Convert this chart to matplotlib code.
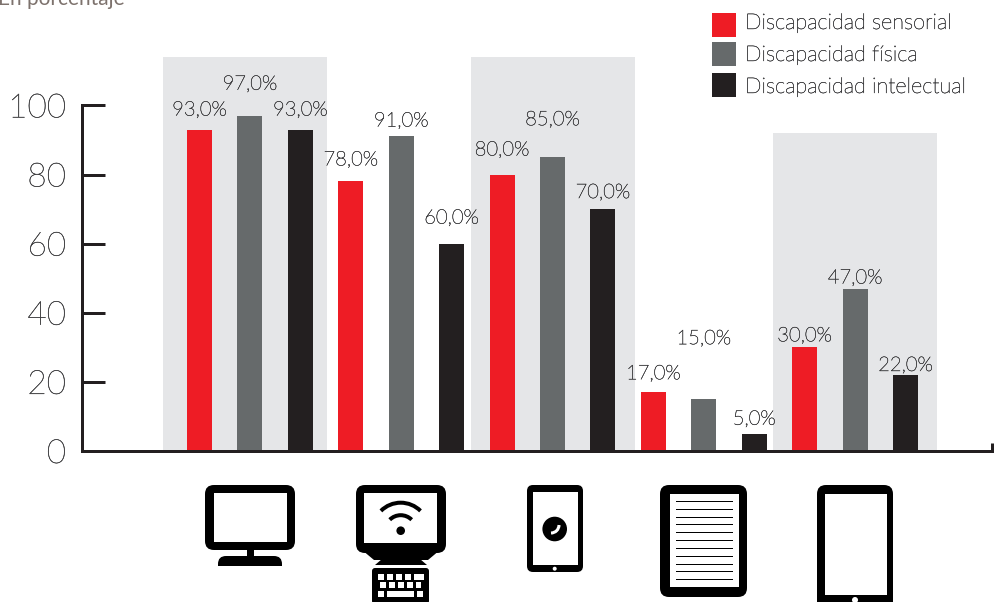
import matplotlib
matplotlib.use("Agg")
import matplotlib.pyplot as plt
import matplotlib.patheffects as pe
from matplotlib.patches import FancyBboxPatch, Rectangle, Circle, Arc, Polygon

# values per device, in the order of the icons
sensorial = [93, 78, 80, 17, 30]
fisica = [97, 91, 85, 15, 47]
intelectual = [93, 60, 70, 5, 22]
series_names = ["Discapacidad sensorial", "Discapacidad física", "Discapacidad intelectual"]
y_ticks = [0, 20, 40, 60, 80, 100]

# grey bands behind the groups: centre in bar slots, height
bands = [(0.9, 114), (7, 114), (13, 92)]

# label gap over each bar, pixels (the original placed them by hand)
gaps = [[10, 22, 10], [12, 6, 16], [15, 28, 7], [9, 51, 5], [2, 1, 0]]

RED, GREY, BLACK, BAND = "#ee1c25", "#666a6b", "#231f20", "#e5e6e8"
TXT = "#3f3f41"
FONT = "Lato"
W, H = 998, 602
PX = 0.72  # points per pixel at dpi 100
# the only light cut found is very thin, so thicken it a little
THIN = [pe.withStroke(linewidth=0.3, foreground=TXT)]

fig = plt.figure(figsize=(W / 100, H / 100), dpi=100)
ax = fig.add_axes([82 / W, (H - 451) / H, (992 - 82) / W, (451 - 57) / H])
ax.set_ylim(0, 114)
step = 50.43
xmin, xmax = (82 - 199.5) / step, (992 - 199.5) / step
ax.set_xlim(xmin, xmax)

for pos, top in bands:
    ax.bar(pos, top, width=164 / step, color=BAND, linewidth=0, zorder=1)

for s, vals in enumerate([sensorial, fisica, intelectual]):
    color = [RED, GREY, BLACK][s]
    for g, v in enumerate(vals):
        x = g * 3 + s
        ax.bar(x, v, width=25 / step, color=color, linewidth=0, zorder=2)
        ax.annotate(f"{v:.1f}%".replace(".", ","), (x, v), xytext=(0, gaps[g][s] * PX),
                    textcoords="offset points", ha="center", va="bottom",
                    fontsize=14.5, family=FONT, weight="light", color=TXT, zorder=3,
                    path_effects=THIN)

for name in ["top", "right"]:
    ax.spines[name].set_visible(False)
ax.spines["left"].set_bounds(0, 100)
for name in ["left", "bottom"]:
    ax.spines[name].set_linewidth(3 * PX)
    ax.spines[name].set_color(BLACK)
ax.set_yticks(y_ticks)
ax.set_xticks([xmax])
ax.set_xticklabels([""])
ax.tick_params(axis="y", direction="in", length=23 * PX, width=3 * PX, color=BLACK,
               pad=16 * PX, labelsize=24, labelcolor=TXT)
ax.tick_params(axis="x", direction="in", length=8 * PX, width=3 * PX, color=BLACK)
for lab in ax.get_yticklabels():
    lab.set_family(FONT)
    lab.set_weight("light")
    lab.set_path_effects(THIN)
ax.patch.set_alpha(0)

# overlay in pixel coordinates for legend, note and icons
ov = fig.add_axes([0, 0, 1, 1])
ov.set_xlim(0, W)
ov.set_ylim(H, 0)
ov.axis("off")
ov.patch.set_alpha(0)


def rbox(x0, y0, x1, y1, r, color="black", z=5):
    ov.add_patch(FancyBboxPatch((x0 + r, y0 + r), x1 - x0 - 2 * r, y1 - y0 - 2 * r,
                                boxstyle=f"round,pad={r},rounding_size={r}",
                                fc=color, ec="none", zorder=z))


def rect(x0, y0, x1, y1, color="white", z=6):
    ov.add_patch(Rectangle((x0, y0), x1 - x0, y1 - y0, fc=color, ec="none", zorder=z))


# legend
for (y0, y1), c, name, ty in zip([(13, 37), (42, 66), (73, 97)], [RED, GREY, BLACK], series_names, [29, 61, 93]):
    rect(712, y0, 736, y1, c)
    ov.text(745, ty, name, fontsize=15.6, family=FONT, weight="light", color=TXT, va="baseline", ha="left",
            path_effects=THIN)

ov.text(125, 5, "En porcentaje", fontsize=15, family=FONT, color="#7d726d", ha="right", va="baseline")

# desktop monitor
rbox(205, 485, 295, 550, 9)
rect(214, 493, 287, 542)
rect(247, 549, 254, 558, "black")
rbox(218, 556, 282, 576, 8)
rect(215, 566, 285, 578)

# monitor with wifi and keyboard
rbox(356, 485, 446, 553, 9)
rect(364, 493, 437, 543)
ov.add_patch(Polygon([[362, 550], [440, 550], [428, 560], [374, 560]], fc="black", ec="none", zorder=5))
ov.add_patch(Polygon([[375, 565], [427, 565], [420, 559], [382, 559]], fc="black", ec="none", zorder=5))
ov.add_patch(Circle((400.7, 530.7), 4.3, fc="black", ec="none", zorder=7))
for r in [28, 15.5]:
    ov.add_patch(Arc((400.7, 530.7), 2 * r, 2 * r, theta1=225, theta2=315, ec="black", lw=4 * PX, zorder=7))
rbox(372, 568, 429, 604, 3)
for row_y, row in [(574, [(378, 384), (387, 393), (396, 402), (405, 411), (414, 424)]),
                   (582, [(380, 386), (389, 395), (398, 404), (407, 413), (416, 421)]),
                   (591, [(378, 384), (387, 414), (417, 423)])]:
    for a, b in row:
        rect(a, row_y, b, row_y + 5.5)

# phone
rbox(527, 485, 583, 572, 6)
rect(533, 492, 578, 565)
ov.add_patch(Circle((554.7, 529), 12.3, fc="black", ec="none", zorder=7))
ov.add_patch(Arc((551, 525), 16, 16, theta1=0, theta2=90, ec="white", lw=2.2, zorder=8))
ov.add_patch(Circle((554.7, 568.7), 2, fc="white", ec="none", zorder=7))

# e-reader
rbox(660, 485, 747, 597, 9)
rect(670, 494, 739, 587)
for y in [501.3, 509.3, 517.3, 524.3, 532.3, 540.3, 548.3, 556.3, 564.3, 571.3, 579.3]:
    rect(676, y - 0.5, 733, y + 0.5, "black", 7)

# tablet, cut by the image edge
rbox(817, 485, 893, 620, 9)
rect(825, 494, 887, 595)
ov.add_patch(Circle((855, 600), 3, fc="white", ec="none", zorder=7))

fig.savefig("out.png", dpi=100)
